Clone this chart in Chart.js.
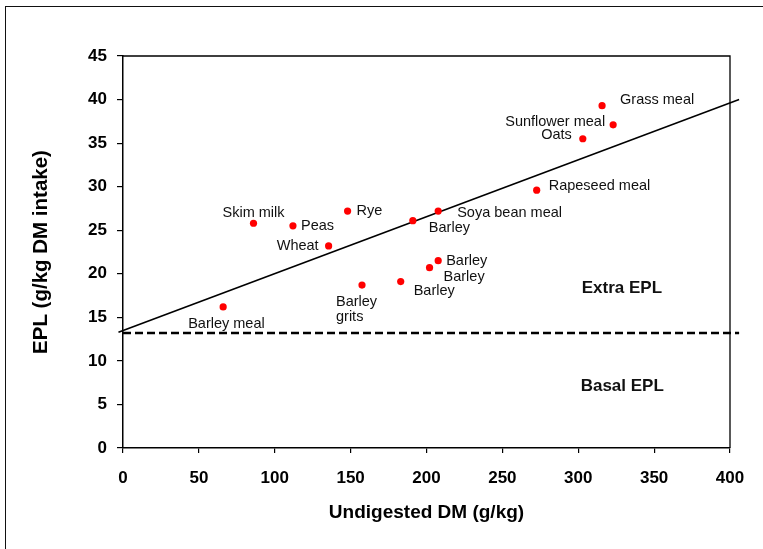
<!DOCTYPE html>
<html>
<head>
<meta charset="utf-8">
<script src="https://cdn.jsdelivr.net/npm/chart.js@4.4.1/dist/chart.umd.min.js"></script>
<style>
  html, body { margin: 0; padding: 0; background: #fff; overflow: hidden; }
  #wrap { position: relative; width: 763px; height: 549px; overflow: hidden; }
  #frame { position: absolute; left: 5px; top: 6px; width: 900px; height: 700px; border: 1.5px solid #111; box-sizing: border-box; }
  #c { position: absolute; left: 0; top: 0; }
</style>
</head>
<body>
<div id="wrap">
  <div id="frame"></div>
  <canvas id="c" width="763" height="549"></canvas>
</div>
<script>
// ---- Data ----
const feedNames = ["Barley meal", "Skim milk", "Peas", "Wheat", "Rye", "Barley grits", "Barley", "Barley", "Barley", "Barley", "Soya bean meal", "Rapeseed meal", "Oats", "Grass meal", "Sunflower meal"];
const undigestedDM = [66, 86, 112, 135.5, 148, 157.5, 183, 191, 202, 207.7, 207.7, 272.6, 303, 315.7, 323];
const eplValues = [16.2, 25.8, 25.5, 23.2, 27.2, 18.7, 19.1, 26.1, 20.7, 21.5, 27.2, 29.6, 35.5, 39.3, 37.1];
const regressionX = [-3, 406];
const regressionY = [13.3, 40.0];
const basalX = [0, 406];
const basalY = [13.2, 13.2];
const xTicks = [0, 50, 100, 150, 200, 250, 300, 350, 400];
const yTicks = [0, 5, 10, 15, 20, 25, 30, 35, 40, 45];
const regionLabels = ["Extra EPL", "Basal EPL"];
const regionX = [302.3, 301.6];
const regionY = [18.3, 7.1];

// ---- Label placement (pixel offsets from each point) ----
const labelPlacement = [
  {dx: -35, dy: 17, align: 'left'},    // Barley meal
  {dx: 0, dy: -10, align: 'center'},   // Skim milk
  {dx: 8, dy: 0, align: 'left'},       // Peas
  {dx: -10, dy: 0, align: 'right'},    // Wheat
  {dx: 9, dy: 0, align: 'left'},       // Rye
  {dx: -26, dy: 17, align: 'left', lines: ["Barley", "grits"]}, // Barley grits
  {dx: 13, dy: 9, align: 'left'},      // Barley
  {dx: 16, dy: 7, align: 'left'},      // Barley
  {dx: 14, dy: 9, align: 'left'},      // Barley
  {dx: 8, dy: 0, align: 'left'},       // Barley
  {dx: 19, dy: 2, align: 'left'},      // Soya bean meal
  {dx: 12, dy: -4, align: 'left'},     // Rapeseed meal
  {dx: -11, dy: -4, align: 'right'},   // Oats
  {dx: 18, dy: -6, align: 'left'},     // Grass meal
  {dx: -8, dy: -3, align: 'right'}     // Sunflower meal
];

const FONT = '"Liberation Sans", Arial, sans-serif';

const labelPlugin = {
  id: 'labels',
  afterDatasetsDraw(chart) {
    const {ctx, scales: {x, y}, chartArea} = chart;
    ctx.save();
    // plot box (top & right borders)
    ctx.strokeStyle = '#000';
    ctx.lineWidth = 1.3;
    ctx.beginPath();
    ctx.moveTo(chartArea.left, chartArea.top);
    ctx.lineTo(chartArea.right, chartArea.top);
    ctx.lineTo(chartArea.right, chartArea.bottom);
    ctx.stroke();

    ctx.fillStyle = '#111';
    ctx.textBaseline = 'middle';
    ctx.font = '14.5px ' + FONT;
    feedNames.forEach((name, i) => {
      const p = labelPlacement[i];
      const px = x.getPixelForValue(undigestedDM[i]);
      const py = y.getPixelForValue(eplValues[i]);
      ctx.textAlign = p.align;
      const lines = p.lines || [name];
      lines.forEach((t, k) => ctx.fillText(t, px + p.dx, py + p.dy + k * 15));
    });
    ctx.font = 'bold 17px ' + FONT;
    ctx.textAlign = 'left';
    regionLabels.forEach((t, i) => {
      ctx.fillText(t, x.getPixelForValue(regionX[i]), y.getPixelForValue(regionY[i]));
    });
    ctx.restore();
  }
};

new Chart(document.getElementById('c'), {
  type: 'scatter',
  data: {
    datasets: [
      {
        label: 'Feeds',
        data: undigestedDM.map((v, i) => ({x: v, y: eplValues[i]})),
        backgroundColor: '#ff0000',
        borderWidth: 0,
        pointRadius: 3.6,
        showLine: false
      },
      {
        label: 'Regression',
        data: regressionX.map((v, i) => ({x: v, y: regressionY[i]})),
        showLine: true,
        borderColor: '#000',
        borderWidth: 1.6,
        pointRadius: 0,
        clip: false
      },
      {
        label: 'Basal',
        data: basalX.map((v, i) => ({x: v, y: basalY[i]})),
        showLine: true,
        borderColor: '#000',
        borderWidth: 2.6,
        borderDash: [8, 4],
        pointRadius: 0,
        clip: false
      }
    ]
  },
  options: {
    responsive: false,
    animation: false,
    devicePixelRatio: 1,
    layout: { padding: { top: 56, right: 33, left: 0, bottom: 0 } },
    plugins: { legend: { display: false }, tooltip: { enabled: false } },
    scales: {
      x: {
        type: 'linear',
        min: 0, max: 400,
        afterBuildTicks: s => { s.ticks = xTicks.map(v => ({value: v})); },
        afterFit: s => { s.height = 101; },
        grid: { drawOnChartArea: false, tickLength: 5, color: '#000', lineWidth: 1.2 },
        border: { color: '#000', width: 1.5 },
        ticks: { color: '#000', font: { family: FONT, size: 17, weight: 'bold' }, padding: 15, maxRotation: 0 },
        title: { display: true, text: 'Undigested DM (g/kg)', color: '#000', font: { family: FONT, size: 19, weight: 'bold' }, padding: { top: 0, bottom: 25 } }
      },
      y: {
        type: 'linear',
        min: 0, max: 45,
        afterBuildTicks: s => { s.ticks = yTicks.map(v => ({value: v})); },
        afterFit: s => { s.width = 123; },
        grid: { drawOnChartArea: false, tickLength: 6, color: '#000', lineWidth: 1.2 },
        border: { color: '#000', width: 1.5 },
        ticks: { color: '#000', font: { family: FONT, size: 17, weight: 'bold' }, padding: 10 },
        title: { display: true, text: 'EPL (g/kg DM intake)', color: '#000', font: { family: FONT, size: 20.5, weight: 'bold' }, padding: { top: 29, bottom: 0 } }
      }
    }
  },
  plugins: [labelPlugin]
});
</script>
</body>
</html>
